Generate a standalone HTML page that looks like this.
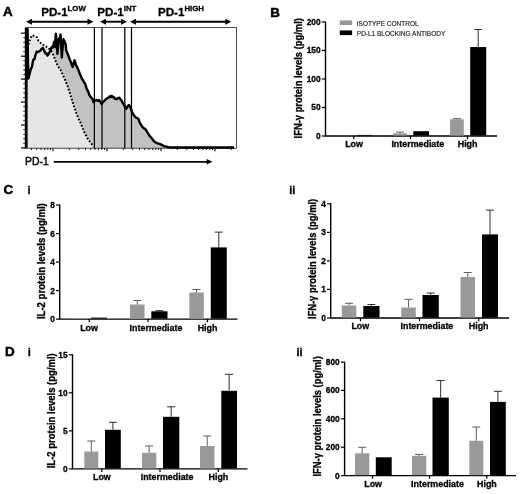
<!DOCTYPE html>
<html lang="en"><head><meta charset="utf-8"><title>PD-1 figure</title>
<style>html,body{margin:0;padding:0;background:#fff}body{width:520px;height:494px;overflow:hidden}svg{display:block}text{font-family:'Liberation Sans', sans-serif}</style>
</head><body>
<svg width="520" height="494" viewBox="0 0 520 494">
<rect width="520" height="494" fill="#fff"/>
<text x="3.0" y="15.8" font-size="13.4" font-weight="bold" text-anchor="start" fill="#000" stroke="#000" stroke-width="0.5" >A</text>
<polygon points="27.6,28.2 27.9,60.0 28.4,78.5 29.5,74.8 30.8,70.2 32.0,66.3 33.2,60.9 34.5,59.1 35.4,55.5 36.6,52.9 37.8,52.0 39.1,52.6 40.3,51.1 41.5,50.2 42.8,48.9 44.0,50.5 45.2,52.3 46.5,54.2 47.4,56.3 48.3,54.2 49.2,51.7 50.5,50.2 51.7,47.4 52.9,45.5 54.2,43.7 55.1,45.5 55.8,34.8 56.6,42.5 57.4,55.5 58.2,47.1 58.9,37.1 59.7,42.5 60.5,34.2 61.2,44.0 61.8,58.2 62.6,47.1 63.4,41.2 64.6,43.4 65.8,46.5 66.1,50.0 67.3,53.0 68.5,56.1 69.7,59.5 70.9,62.1 71.9,65.2 72.7,67.0 73.6,63.3 74.6,60.3 75.5,63.3 76.4,65.8 77.2,67.2 78.2,69.4 79.2,72.1 80.0,74.3 80.9,76.1 81.8,78.5 82.8,79.9 83.7,81.6 84.5,82.8 85.5,84.6 86.1,87.0 86.7,88.8 87.7,90.5 88.5,92.5 89.4,94.9 90.3,96.7 91.3,97.6 92.2,98.5 93.0,100.2 93.5,102.1 95.0,100.8 96.3,100.0 97.7,100.8 99.2,100.2 100.4,101.9 101.5,104.0 102.7,102.3 104.0,101.2 105.4,99.6 106.9,98.3 108.5,97.7 109.8,96.3 110.8,96.9 111.7,95.8 112.7,97.3 113.7,96.9 115.0,98.7 116.5,99.2 118.1,98.1 119.4,97.7 120.4,99.2 121.3,100.2 122.7,102.7 124.2,105.0 125.2,107.3 126.2,108.8 127.7,106.2 129.0,105.0 130.0,106.9 131.0,108.8 131.9,111.7 132.9,113.7 134.2,115.8 135.8,117.5 137.3,118.1 138.7,119.4 139.6,122.3 140.6,124.2 141.9,126.2 143.5,128.1 145.0,128.8 146.3,130.4 147.3,132.3 148.3,133.8 149.6,135.8 151.2,137.7 152.7,139.6 154.0,141.2 155.4,142.3 156.9,143.1 158.8,143.7 160.8,144.4 162.7,145.4 164.6,146.3 166.5,146.7 168.5,147.3 171.3,147.7 174.2,147.9 180.0,148.1 234.0,147.5 236.5,148.2 27,148.2" fill="#c2c2c2"/>
<polygon points="28.5,44.5 29.5,41.0 30.8,37.5 32.2,35.3 34.5,36.0 37.0,37.5 38.6,40.8 40.5,42.8 43.0,44.8 45.5,46.2 48.0,47.6 50.5,50.2 52.5,53.5 54.5,58.0 56.2,62.5 58.5,67.0 60.8,70.3 63.0,75.5 65.4,80.5 67.6,86.0 69.8,93.0 72.0,100.0 74.2,107.0 76.4,113.5 78.4,118.5 80.0,121.3 82.0,126.5 83.8,131.0 85.8,135.0 87.7,138.7 89.2,140.8 90.6,142.5 92.0,144.5 93.5,146.5 93.5,148.2 27,148.2" fill="#e6e6e6"/>
<rect x="26" y="27.6" width="210.5" height="120.6" fill="none" stroke="#222" stroke-width="0.8"/>
<path d="M94.4 27.6V148.2" stroke="#000" stroke-width="1.25"/>
<path d="M102 27.6V148.2" stroke="#000" stroke-width="1.25"/>
<path d="M124.8 27.6V148.2" stroke="#000" stroke-width="1.25"/>
<path d="M131.5 27.6V148.2" stroke="#000" stroke-width="1.25"/>
<polyline points="28.5,44.5 29.5,41.0 30.8,37.5 32.2,35.3 34.5,36.0 37.0,37.5 38.6,40.8 40.5,42.8 43.0,44.8 45.5,46.2 48.0,47.6 50.5,50.2 52.5,53.5 54.5,58.0 56.2,62.5 58.5,67.0 60.8,70.3 63.0,75.5 65.4,80.5 67.6,86.0 69.8,93.0 72.0,100.0 74.2,107.0 76.4,113.5 78.4,118.5 80.0,121.3 82.0,126.5 83.8,131.0 85.8,135.0 87.7,138.7 89.2,140.8 90.6,142.5 92.0,144.5 93.5,146.5" fill="none" stroke="#000" stroke-width="2" stroke-dasharray="1.7 1.8"/>
<polyline points="27.6,28.2 27.9,60.0 28.4,78.5 29.5,74.3 30.8,69.2 32.0,66.7 33.2,59.8 34.5,59.2 35.4,55.2 36.6,51.8 37.8,52.0 39.1,51.4 40.3,50.9 41.5,49.0 42.8,47.9 44.0,50.3 45.2,53.2 46.5,53.2 47.4,55.6 48.3,54.5 49.2,52.9 50.5,50.4 51.7,47.1 52.9,47.6 54.2,41.7 55.1,47.1 55.8,33.8 56.6,40.9 57.4,53.9 58.2,46.2 58.9,38.5 59.7,41.1 60.5,34.5 61.2,44.6 61.8,57.6 62.6,47.3 63.4,39.3 64.6,41.4 65.8,45.2 66.1,50.0 67.3,53.0 68.5,56.1 69.7,59.5 70.9,62.1 71.9,65.2 72.7,67.0 73.6,63.3 74.6,60.3 75.5,63.3 76.4,65.8 77.2,67.2 78.2,69.4 79.2,72.1 80.0,74.3 80.9,76.1 81.8,78.5 82.8,79.9 83.7,81.6 84.5,82.8 85.5,84.6 86.1,87.0 86.7,88.8 87.7,90.5 88.5,92.5 89.4,94.9 90.3,96.7 91.3,97.6 92.2,98.5 93.0,100.2 93.5,102.1 95.0,100.8 96.3,100.0 97.7,100.8 99.2,100.2 100.4,101.9 101.5,104.0 102.7,102.3 104.0,101.2 105.4,99.6 106.9,98.3 108.5,97.7 109.8,96.3 110.8,96.9 111.7,95.8 112.7,97.3 113.7,96.9 115.0,98.7 116.5,99.2 118.1,98.1 119.4,97.7 120.4,99.2 121.3,100.2 122.7,102.7 124.2,105.0 125.2,107.3 126.2,108.8 127.7,106.2 129.0,105.0 130.0,106.9 131.0,108.8 131.9,111.7 132.9,113.7 134.2,115.8 135.8,117.5 137.3,118.1 138.7,119.4 139.6,122.3 140.6,124.2 141.9,126.2 143.5,128.1 145.0,128.8 146.3,130.4 147.3,132.3 148.3,133.8 149.6,135.8 151.2,137.7 152.7,139.6 154.0,141.2 155.4,142.3 156.9,143.1 157.9,143.4 158.8,143.7 159.8,144.0 160.8,144.4 161.7,144.9 162.7,145.4 163.7,145.9 164.6,146.3 165.6,146.5 166.5,146.7 167.5,147.0 168.5,147.3 169.4,147.4 170.4,147.5 171.3,147.5 172.3,147.5 173.3,147.5 174.2,147.5 175.2,147.5 176.2,147.5 177.1,147.5 178.1,147.5 179.0,147.5 180.0,147.5 180.9,147.5 181.8,147.5 182.7,147.5 183.6,147.5 184.5,147.5 185.4,147.5 186.3,147.5 187.2,147.5 188.1,147.5 189.0,147.5 189.9,147.5 190.8,147.5 191.7,147.5 192.6,147.5 193.5,147.5 194.4,147.5 195.3,147.5 196.2,147.5 197.1,147.5 198.0,147.5 198.9,147.5 199.8,147.5 200.7,147.5 201.6,147.5 202.5,147.5 203.4,147.5 204.3,147.5 205.2,147.5 206.1,147.5 207.0,147.5 207.9,147.5 208.8,147.5 209.7,147.5 210.6,147.5 211.5,147.5 212.4,147.5 213.3,147.5 214.2,147.5 215.1,147.5 216.0,147.5 216.9,147.5 217.8,147.5 218.7,147.5 219.6,147.5 220.5,147.5 221.4,147.5 222.3,147.5 223.2,147.5 224.1,147.5 225.0,147.5 225.9,147.5 226.8,147.5 227.7,147.5 228.6,147.5 229.5,147.5 230.4,147.5 231.3,147.5 232.2,147.5 233.1,147.5 234.0,147.5" fill="none" stroke="#000" stroke-width="2.4" stroke-linejoin="round"/>
<rect x="24.8" y="27.6" width="2.8" height="120.6" fill="#000"/>
<path d="M21 33.2H26" stroke="#000" stroke-width="1.2"/>
<path d="M21 56.2H26" stroke="#000" stroke-width="1.2"/>
<path d="M21 79.1H26" stroke="#000" stroke-width="1.2"/>
<path d="M21 102.0H26" stroke="#000" stroke-width="1.2"/>
<path d="M21 125.0H26" stroke="#000" stroke-width="1.2"/>
<path d="M21 147.9H26" stroke="#000" stroke-width="1.2"/>
<path d="M23.2 37.8H26" stroke="#000" stroke-width="0.8"/>
<path d="M23.2 42.4H26" stroke="#000" stroke-width="0.8"/>
<path d="M23.2 47.0H26" stroke="#000" stroke-width="0.8"/>
<path d="M23.2 51.6H26" stroke="#000" stroke-width="0.8"/>
<path d="M23.2 60.7H26" stroke="#000" stroke-width="0.8"/>
<path d="M23.2 65.3H26" stroke="#000" stroke-width="0.8"/>
<path d="M23.2 69.9H26" stroke="#000" stroke-width="0.8"/>
<path d="M23.2 74.5H26" stroke="#000" stroke-width="0.8"/>
<path d="M23.2 83.7H26" stroke="#000" stroke-width="0.8"/>
<path d="M23.2 88.3H26" stroke="#000" stroke-width="0.8"/>
<path d="M23.2 92.9H26" stroke="#000" stroke-width="0.8"/>
<path d="M23.2 97.5H26" stroke="#000" stroke-width="0.8"/>
<path d="M23.2 106.6H26" stroke="#000" stroke-width="0.8"/>
<path d="M23.2 111.2H26" stroke="#000" stroke-width="0.8"/>
<path d="M23.2 115.8H26" stroke="#000" stroke-width="0.8"/>
<path d="M23.2 120.4H26" stroke="#000" stroke-width="0.8"/>
<path d="M23.2 129.6H26" stroke="#000" stroke-width="0.8"/>
<path d="M23.2 134.2H26" stroke="#000" stroke-width="0.8"/>
<path d="M23.2 138.8H26" stroke="#000" stroke-width="0.8"/>
<path d="M23.2 143.4H26" stroke="#000" stroke-width="0.8"/>
<path d="M31.5 148.2V150.0" stroke="#000" stroke-width="0.9"/>
<path d="M36.7 148.2V150.0" stroke="#000" stroke-width="0.9"/>
<path d="M41.0 148.2V150.0" stroke="#000" stroke-width="0.9"/>
<path d="M44.6 148.2V150.0" stroke="#000" stroke-width="0.9"/>
<path d="M47.8 148.2V150.0" stroke="#000" stroke-width="0.9"/>
<path d="M50.5 148.2V150.0" stroke="#000" stroke-width="0.9"/>
<path d="M53.0 148.2V151.2" stroke="#000" stroke-width="1.1"/>
<path d="M69.3 148.2V150.0" stroke="#000" stroke-width="0.9"/>
<path d="M78.8 148.2V150.0" stroke="#000" stroke-width="0.9"/>
<path d="M85.5 148.2V150.0" stroke="#000" stroke-width="0.9"/>
<path d="M90.7 148.2V150.0" stroke="#000" stroke-width="0.9"/>
<path d="M95.0 148.2V150.0" stroke="#000" stroke-width="0.9"/>
<path d="M98.6 148.2V150.0" stroke="#000" stroke-width="0.9"/>
<path d="M101.8 148.2V150.0" stroke="#000" stroke-width="0.9"/>
<path d="M104.5 148.2V150.0" stroke="#000" stroke-width="0.9"/>
<path d="M107.0 148.2V151.2" stroke="#000" stroke-width="1.1"/>
<path d="M123.3 148.2V150.0" stroke="#000" stroke-width="0.9"/>
<path d="M132.8 148.2V150.0" stroke="#000" stroke-width="0.9"/>
<path d="M139.5 148.2V150.0" stroke="#000" stroke-width="0.9"/>
<path d="M144.7 148.2V150.0" stroke="#000" stroke-width="0.9"/>
<path d="M149.0 148.2V150.0" stroke="#000" stroke-width="0.9"/>
<path d="M152.6 148.2V150.0" stroke="#000" stroke-width="0.9"/>
<path d="M155.8 148.2V150.0" stroke="#000" stroke-width="0.9"/>
<path d="M158.5 148.2V150.0" stroke="#000" stroke-width="0.9"/>
<path d="M161.0 148.2V151.2" stroke="#000" stroke-width="1.1"/>
<path d="M177.3 148.2V150.0" stroke="#000" stroke-width="0.9"/>
<path d="M186.8 148.2V150.0" stroke="#000" stroke-width="0.9"/>
<path d="M193.5 148.2V150.0" stroke="#000" stroke-width="0.9"/>
<path d="M198.7 148.2V150.0" stroke="#000" stroke-width="0.9"/>
<path d="M203.0 148.2V150.0" stroke="#000" stroke-width="0.9"/>
<path d="M206.6 148.2V150.0" stroke="#000" stroke-width="0.9"/>
<path d="M209.8 148.2V150.0" stroke="#000" stroke-width="0.9"/>
<path d="M212.5 148.2V150.0" stroke="#000" stroke-width="0.9"/>
<path d="M215.0 148.2V151.2" stroke="#000" stroke-width="1.1"/>
<path d="M231.3 148.2V150.0" stroke="#000" stroke-width="0.9"/>
<path d="M31 21.7H88.5" stroke="#000" stroke-width="1.9"/>
<polygon points="26,21.7 32,18.7 32,24.7" fill="#000"/>
<polygon points="93.5,21.7 87.5,18.7 87.5,24.7" fill="#000"/>
<path d="M105 21.7H122" stroke="#000" stroke-width="1.9"/>
<polygon points="100,21.7 106,18.7 106,24.7" fill="#000"/>
<polygon points="127,21.7 121,18.7 121,24.7" fill="#000"/>
<path d="M135 21.7H226.3" stroke="#000" stroke-width="1.9"/>
<polygon points="130,21.7 136,18.7 136,24.7" fill="#000"/>
<polygon points="231.3,21.7 225.3,18.7 225.3,24.7" fill="#000"/>
<text x="41.2" y="15.7" font-size="11.6" font-weight="bold" stroke="#000" stroke-width="0.3">PD-1<tspan font-size="7.8" dy="-4.4">LOW</tspan></text>
<text x="97.3" y="15.7" font-size="11.6" font-weight="bold" stroke="#000" stroke-width="0.3">PD-1<tspan font-size="7.8" dy="-4.4">INT</tspan></text>
<text x="158" y="15.7" font-size="11.6" font-weight="bold" stroke="#000" stroke-width="0.3">PD-1<tspan font-size="7.8" dy="-4.4">HIGH</tspan></text>
<text x="25" y="165.2" font-size="10.4" font-weight="normal" text-anchor="start" fill="#000" stroke="#000" stroke-width="0.45" >PD-1</text>
<path d="M53.8 161.8H207.7" stroke="#000" stroke-width="1.8"/>
<polygon points="212.5,161.8 206.7,159.0 206.7,164.60000000000002" fill="#000"/>
<text x="270.3" y="17.2" font-size="13.4" font-weight="bold" text-anchor="start" fill="#000" stroke="#000" stroke-width="0.5" >B</text>
<path d="M325.5 21.5V136H497" stroke="#000" stroke-width="1.4" fill="none"/>
<path d="M321.8 22H325.5" stroke="#000" stroke-width="1.2"/>
<text x="320.6" y="24.9" font-size="8.3" font-weight="bold" text-anchor="end" fill="#000" stroke="#000" stroke-width="0.3" >200</text>
<path d="M321.8 50.5H325.5" stroke="#000" stroke-width="1.2"/>
<text x="320.6" y="53.4" font-size="8.3" font-weight="bold" text-anchor="end" fill="#000" stroke="#000" stroke-width="0.3" >150</text>
<path d="M321.8 79H325.5" stroke="#000" stroke-width="1.2"/>
<text x="320.6" y="81.9" font-size="8.3" font-weight="bold" text-anchor="end" fill="#000" stroke="#000" stroke-width="0.3" >100</text>
<path d="M321.8 107.5H325.5" stroke="#000" stroke-width="1.2"/>
<text x="320.6" y="110.4" font-size="8.3" font-weight="bold" text-anchor="end" fill="#000" stroke="#000" stroke-width="0.3" >50</text>
<path d="M321.8 136H325.5" stroke="#000" stroke-width="1.2"/>
<text x="320.6" y="138.9" font-size="8.3" font-weight="bold" text-anchor="end" fill="#000" stroke="#000" stroke-width="0.3" >0</text>
<path d="M353.8 136V139.2" stroke="#000" stroke-width="1.2"/>
<rect x="337" y="135.5" width="14.50" height="0.10" fill="#999999"/>
<rect x="357" y="134.9" width="15.00" height="0.70" fill="#000"/>
<path d="M410.5 136V139.2" stroke="#000" stroke-width="1.2"/>
<rect x="393" y="133.4" width="14.00" height="2.20" fill="#999999"/>
<path d="M400.0 133.4V132.2M396.0 132.2H404.0" stroke="#555555" stroke-width="0.95" fill="none"/>
<rect x="413.3" y="131.2" width="15.70" height="4.40" fill="#000"/>
<path d="M467.5 136V139.2" stroke="#000" stroke-width="1.2"/>
<rect x="450" y="119.3" width="13.80" height="16.30" fill="#999999"/>
<path d="M456.9 119.3V118.6M452.9 118.6H460.9" stroke="#555555" stroke-width="0.95" fill="none"/>
<rect x="470.2" y="47" width="16.00" height="88.60" fill="#000"/>
<path d="M478.2 47V29.5M474.2 29.5H482.2" stroke="#222" stroke-width="0.95" fill="none"/>
<text x="354" y="147.1" font-size="8.9" font-weight="bold" text-anchor="middle" fill="#000" stroke="#000" stroke-width="0.3" >Low</text>
<text x="417.8" y="147.1" font-size="8.9" font-weight="bold" text-anchor="middle" fill="#000" stroke="#000" stroke-width="0.3" >Intermediate</text>
<text x="467.6" y="147.1" font-size="8.9" font-weight="bold" text-anchor="middle" fill="#000" stroke="#000" stroke-width="0.3" >High</text>
<text transform="translate(302.2 138.4) rotate(-90)" font-size="10" font-weight="bold" text-anchor="start" stroke="#000" stroke-width="0.3" textLength="120.3" lengthAdjust="spacingAndGlyphs">IFN-γ protein levels (pg/ml)</text>
<rect x="339.8" y="20.4" width="12.3" height="4.6" fill="#999999"/>
<rect x="339.8" y="30.4" width="12.3" height="4.7" fill="#000"/>
<text x="356.8" y="25.9" font-size="6.5" font-weight="normal" text-anchor="start" fill="#222" stroke="#222" stroke-width="0.15" >ISOTYPE CONTROL</text>
<text x="356.8" y="35.6" font-size="6.5" font-weight="normal" text-anchor="start" fill="#222" stroke="#222" stroke-width="0.15" >PD-L1 BLOCKING ANTIBODY</text>
<text x="3.5" y="193.8" font-size="13.4" font-weight="bold" text-anchor="start" fill="#000" stroke="#000" stroke-width="0.5" >C</text>
<text x="27.6" y="193.8" font-size="11" font-weight="bold" text-anchor="start" fill="#000" stroke="#000" stroke-width="0.3" >i</text>
<path d="M59.7 204.5V319.1H237.5" stroke="#000" stroke-width="1.4" fill="none"/>
<path d="M56.0 205H59.7" stroke="#000" stroke-width="1.2"/>
<text x="54.800000000000004" y="207.9" font-size="8.3" font-weight="bold" text-anchor="end" fill="#000" stroke="#000" stroke-width="0.3" >8</text>
<path d="M56.0 233.6H59.7" stroke="#000" stroke-width="1.2"/>
<text x="54.800000000000004" y="236.5" font-size="8.3" font-weight="bold" text-anchor="end" fill="#000" stroke="#000" stroke-width="0.3" >6</text>
<path d="M56.0 262.1H59.7" stroke="#000" stroke-width="1.2"/>
<text x="54.800000000000004" y="265.0" font-size="8.3" font-weight="bold" text-anchor="end" fill="#000" stroke="#000" stroke-width="0.3" >4</text>
<path d="M56.0 290.6H59.7" stroke="#000" stroke-width="1.2"/>
<text x="54.800000000000004" y="293.5" font-size="8.3" font-weight="bold" text-anchor="end" fill="#000" stroke="#000" stroke-width="0.3" >2</text>
<path d="M56.0 319.1H59.7" stroke="#000" stroke-width="1.2"/>
<text x="54.800000000000004" y="322.0" font-size="8.3" font-weight="bold" text-anchor="end" fill="#000" stroke="#000" stroke-width="0.3" >0</text>
<path d="M89.3 319.1V322.3" stroke="#000" stroke-width="1.2"/>
<rect x="74" y="318.0" width="14.00" height="0.70" fill="#999999"/>
<rect x="91" y="317.6" width="16.00" height="1.10" fill="#000"/>
<path d="M148 319.1V322.3" stroke="#000" stroke-width="1.2"/>
<rect x="130" y="304.5" width="14.50" height="14.20" fill="#999999"/>
<path d="M137.25 304.5V300.5M133.25 300.5H141.25" stroke="#555555" stroke-width="0.95" fill="none"/>
<rect x="151.3" y="311.3" width="16.20" height="7.40" fill="#000"/>
<path d="M159.4 311.3V310.7M155.4 310.7H163.4" stroke="#222" stroke-width="0.95" fill="none"/>
<path d="M207.5 319.1V322.3" stroke="#000" stroke-width="1.2"/>
<rect x="189.3" y="292.5" width="14.50" height="26.20" fill="#999999"/>
<path d="M196.55 292.5V289.5M192.55 289.5H200.55" stroke="#555555" stroke-width="0.95" fill="none"/>
<rect x="210.8" y="247.4" width="16.00" height="71.30" fill="#000"/>
<path d="M218.8 247.4V232.1M214.8 232.1H222.8" stroke="#222" stroke-width="0.95" fill="none"/>
<text x="89" y="330.6" font-size="8.9" font-weight="bold" text-anchor="middle" fill="#000" stroke="#000" stroke-width="0.3" >Low</text>
<text x="156" y="330.6" font-size="8.9" font-weight="bold" text-anchor="middle" fill="#000" stroke="#000" stroke-width="0.3" >Intermediate</text>
<text x="207.5" y="330.6" font-size="8.9" font-weight="bold" text-anchor="middle" fill="#000" stroke="#000" stroke-width="0.3" >High</text>
<text transform="translate(45 319.1) rotate(-90)" font-size="10" font-weight="bold" text-anchor="start" stroke="#000" stroke-width="0.3" textLength="115.9" lengthAdjust="spacingAndGlyphs">IL-2 protein levels (pg/ml)</text>
<text x="289.2" y="194.2" font-size="11" font-weight="bold" text-anchor="start" fill="#000" stroke="#000" stroke-width="0.3" >ii</text>
<path d="M330.7 203.3V318.0H509" stroke="#000" stroke-width="1.4" fill="none"/>
<path d="M327.0 203.8H330.7" stroke="#000" stroke-width="1.2"/>
<text x="325.8" y="206.70000000000002" font-size="8.3" font-weight="bold" text-anchor="end" fill="#000" stroke="#000" stroke-width="0.3" >4</text>
<path d="M327.0 232.4H330.7" stroke="#000" stroke-width="1.2"/>
<text x="325.8" y="235.3" font-size="8.3" font-weight="bold" text-anchor="end" fill="#000" stroke="#000" stroke-width="0.3" >3</text>
<path d="M327.0 260.9H330.7" stroke="#000" stroke-width="1.2"/>
<text x="325.8" y="263.79999999999995" font-size="8.3" font-weight="bold" text-anchor="end" fill="#000" stroke="#000" stroke-width="0.3" >2</text>
<path d="M327.0 289.4H330.7" stroke="#000" stroke-width="1.2"/>
<text x="325.8" y="292.29999999999995" font-size="8.3" font-weight="bold" text-anchor="end" fill="#000" stroke="#000" stroke-width="0.3" >1</text>
<path d="M327.0 318.0H330.7" stroke="#000" stroke-width="1.2"/>
<text x="325.8" y="320.9" font-size="8.3" font-weight="bold" text-anchor="end" fill="#000" stroke="#000" stroke-width="0.3" >0</text>
<path d="M360.5 318.0V321.2" stroke="#000" stroke-width="1.2"/>
<rect x="341.8" y="305.5" width="14.50" height="12.10" fill="#999999"/>
<path d="M349.05 305.5V303.3M345.05 303.3H353.05" stroke="#555555" stroke-width="0.95" fill="none"/>
<rect x="363.3" y="306" width="16.20" height="11.60" fill="#000"/>
<path d="M371.4 306V304.5M367.4 304.5H375.4" stroke="#222" stroke-width="0.95" fill="none"/>
<path d="M419.5 318.0V321.2" stroke="#000" stroke-width="1.2"/>
<rect x="401.3" y="307.5" width="14.50" height="10.10" fill="#999999"/>
<path d="M408.55 307.5V299.3M404.55 299.3H412.55" stroke="#555555" stroke-width="0.95" fill="none"/>
<rect x="422.5" y="295" width="16.30" height="22.60" fill="#000"/>
<path d="M430.65 295V293M426.65 293H434.65" stroke="#222" stroke-width="0.95" fill="none"/>
<path d="M478.7 318.0V321.2" stroke="#000" stroke-width="1.2"/>
<rect x="460.5" y="277" width="14.50" height="40.60" fill="#999999"/>
<path d="M467.75 277V272.5M463.75 272.5H471.75" stroke="#555555" stroke-width="0.95" fill="none"/>
<rect x="482" y="234.4" width="16.00" height="83.20" fill="#000"/>
<path d="M490.0 234.4V210.1M486.0 210.1H494.0" stroke="#222" stroke-width="0.95" fill="none"/>
<text x="360.3" y="328.90000000000003" font-size="8.9" font-weight="bold" text-anchor="middle" fill="#000" stroke="#000" stroke-width="0.3" >Low</text>
<text x="426.9" y="328.90000000000003" font-size="8.9" font-weight="bold" text-anchor="middle" fill="#000" stroke="#000" stroke-width="0.3" >Intermediate</text>
<text x="478.7" y="328.90000000000003" font-size="8.9" font-weight="bold" text-anchor="middle" fill="#000" stroke="#000" stroke-width="0.3" >High</text>
<text transform="translate(315.6 319.1) rotate(-90)" font-size="10" font-weight="bold" text-anchor="start" stroke="#000" stroke-width="0.3" textLength="120.3" lengthAdjust="spacingAndGlyphs">IFN-γ protein levels (pg/ml)</text>
<text x="5" y="355.8" font-size="13.4" font-weight="bold" text-anchor="start" fill="#000" stroke="#000" stroke-width="0.5" >D</text>
<text x="27.8" y="355.8" font-size="11" font-weight="bold" text-anchor="start" fill="#000" stroke="#000" stroke-width="0.3" >i</text>
<path d="M72.5 354.3V468.9H247.5" stroke="#000" stroke-width="1.4" fill="none"/>
<path d="M68.8 354.8H72.5" stroke="#000" stroke-width="1.2"/>
<text x="67.6" y="357.7" font-size="8.3" font-weight="bold" text-anchor="end" fill="#000" stroke="#000" stroke-width="0.3" >15</text>
<path d="M68.8 392.8H72.5" stroke="#000" stroke-width="1.2"/>
<text x="67.6" y="395.7" font-size="8.3" font-weight="bold" text-anchor="end" fill="#000" stroke="#000" stroke-width="0.3" >10</text>
<path d="M68.8 430.9H72.5" stroke="#000" stroke-width="1.2"/>
<text x="67.6" y="433.79999999999995" font-size="8.3" font-weight="bold" text-anchor="end" fill="#000" stroke="#000" stroke-width="0.3" >5</text>
<path d="M68.8 468.9H72.5" stroke="#000" stroke-width="1.2"/>
<text x="67.6" y="471.79999999999995" font-size="8.3" font-weight="bold" text-anchor="end" fill="#000" stroke="#000" stroke-width="0.3" >0</text>
<path d="M101.8 468.9V472.09999999999997" stroke="#000" stroke-width="1.2"/>
<rect x="84.3" y="451.5" width="14.00" height="17.00" fill="#999999"/>
<path d="M91.3 451.5V441M87.3 441H95.3" stroke="#555555" stroke-width="0.95" fill="none"/>
<rect x="105" y="429.8" width="15.80" height="38.70" fill="#000"/>
<path d="M112.9 429.8V422.3M108.9 422.3H116.9" stroke="#222" stroke-width="0.95" fill="none"/>
<path d="M160 468.9V472.09999999999997" stroke="#000" stroke-width="1.2"/>
<rect x="142" y="452.8" width="14.30" height="15.70" fill="#999999"/>
<path d="M149.15 452.8V446M145.15 446H153.15" stroke="#555555" stroke-width="0.95" fill="none"/>
<rect x="163" y="416.8" width="16.30" height="51.70" fill="#000"/>
<path d="M171.15 416.8V406.8M167.15 406.8H175.15" stroke="#222" stroke-width="0.95" fill="none"/>
<path d="M218.3 468.9V472.09999999999997" stroke="#000" stroke-width="1.2"/>
<rect x="200" y="446" width="14.50" height="22.50" fill="#999999"/>
<path d="M207.25 446V436M203.25 436H211.25" stroke="#555555" stroke-width="0.95" fill="none"/>
<rect x="221.3" y="390.8" width="15.70" height="77.70" fill="#000"/>
<path d="M229.15 390.8V374.3M225.15 374.3H233.15" stroke="#222" stroke-width="0.95" fill="none"/>
<text x="101.9" y="480.3" font-size="8.9" font-weight="bold" text-anchor="middle" fill="#000" stroke="#000" stroke-width="0.3" >Low</text>
<text x="167.1" y="480.3" font-size="8.9" font-weight="bold" text-anchor="middle" fill="#000" stroke="#000" stroke-width="0.3" >Intermediate</text>
<text x="218.4" y="480.3" font-size="8.9" font-weight="bold" text-anchor="middle" fill="#000" stroke="#000" stroke-width="0.3" >High</text>
<text transform="translate(54.8 468.3) rotate(-90)" font-size="10" font-weight="bold" text-anchor="start" stroke="#000" stroke-width="0.3" textLength="115.1" lengthAdjust="spacingAndGlyphs">IL-2 protein levels (pg/ml)</text>
<text x="296.5" y="355.6" font-size="11" font-weight="bold" text-anchor="start" fill="#000" stroke="#000" stroke-width="0.3" >ii</text>
<path d="M344.6 361.7V475.6H516" stroke="#000" stroke-width="1.4" fill="none"/>
<path d="M340.90000000000003 362.2H344.6" stroke="#000" stroke-width="1.2"/>
<text x="339.70000000000005" y="365.09999999999997" font-size="8.3" font-weight="bold" text-anchor="end" fill="#000" stroke="#000" stroke-width="0.3" >800</text>
<path d="M340.90000000000003 390.4H344.6" stroke="#000" stroke-width="1.2"/>
<text x="339.70000000000005" y="393.29999999999995" font-size="8.3" font-weight="bold" text-anchor="end" fill="#000" stroke="#000" stroke-width="0.3" >600</text>
<path d="M340.90000000000003 418.8H344.6" stroke="#000" stroke-width="1.2"/>
<text x="339.70000000000005" y="421.7" font-size="8.3" font-weight="bold" text-anchor="end" fill="#000" stroke="#000" stroke-width="0.3" >400</text>
<path d="M340.90000000000003 447.2H344.6" stroke="#000" stroke-width="1.2"/>
<text x="339.70000000000005" y="450.09999999999997" font-size="8.3" font-weight="bold" text-anchor="end" fill="#000" stroke="#000" stroke-width="0.3" >200</text>
<path d="M340.90000000000003 475.6H344.6" stroke="#000" stroke-width="1.2"/>
<text x="339.70000000000005" y="478.5" font-size="8.3" font-weight="bold" text-anchor="end" fill="#000" stroke="#000" stroke-width="0.3" >0</text>
<path d="M372.5 475.6V478.8" stroke="#000" stroke-width="1.2"/>
<rect x="355" y="453.3" width="14.30" height="21.90" fill="#999999"/>
<path d="M362.15 453.3V447.3M358.15 447.3H366.15" stroke="#555555" stroke-width="0.95" fill="none"/>
<rect x="375.8" y="457.3" width="15.90" height="17.90" fill="#000"/>
<path d="M429.5 475.6V478.8" stroke="#000" stroke-width="1.2"/>
<rect x="412" y="455.8" width="14.30" height="19.40" fill="#999999"/>
<path d="M419.15 455.8V454.5M415.15 454.5H423.15" stroke="#555555" stroke-width="0.95" fill="none"/>
<rect x="432.5" y="397.6" width="16.30" height="77.60" fill="#000"/>
<path d="M440.65 397.6V380.5M436.65 380.5H444.65" stroke="#222" stroke-width="0.95" fill="none"/>
<path d="M486.8 475.6V478.8" stroke="#000" stroke-width="1.2"/>
<rect x="469.3" y="440.8" width="14.00" height="34.40" fill="#999999"/>
<path d="M476.3 440.8V427M472.3 427H480.3" stroke="#555555" stroke-width="0.95" fill="none"/>
<rect x="490" y="401.9" width="15.80" height="73.30" fill="#000"/>
<path d="M497.9 401.9V391.3M493.9 391.3H501.9" stroke="#222" stroke-width="0.95" fill="none"/>
<text x="373.1" y="487.0" font-size="8.9" font-weight="bold" text-anchor="middle" fill="#000" stroke="#000" stroke-width="0.3" >Low</text>
<text x="437.5" y="487.0" font-size="8.9" font-weight="bold" text-anchor="middle" fill="#000" stroke="#000" stroke-width="0.3" >Intermediate</text>
<text x="486.9" y="487.0" font-size="8.9" font-weight="bold" text-anchor="middle" fill="#000" stroke="#000" stroke-width="0.3" >High</text>
<text transform="translate(321.3 476.5) rotate(-90)" font-size="10" font-weight="bold" text-anchor="start" stroke="#000" stroke-width="0.3" textLength="120.3" lengthAdjust="spacingAndGlyphs">IFN-γ protein levels (pg/ml)</text>
</svg></body></html>
